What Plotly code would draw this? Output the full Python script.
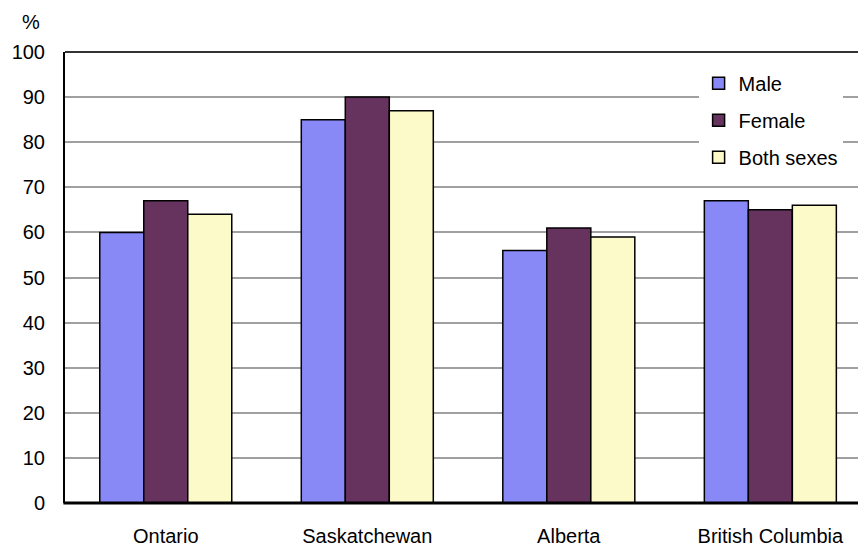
import plotly.graph_objects as go

categories = ["Ontario", "Saskatchewan", "Alberta", "British Columbia"]
male = [60, 85, 56, 67]
female = [67, 90, 61, 65]
both = [64, 87, 59, 66]
series_names = ["Male", "Female", "Both sexes"]
series_colors = ["#8888F6", "#66325E", "#FCFAC8"]
y_ticks = [0, 10, 20, 30, 40, 50, 60, 70, 80, 90, 100]

fig = go.Figure()
for i, (name, vals, col) in enumerate(zip(series_names, [male, female, both], series_colors)):
    fig.add_trace(go.Bar(
        x=categories, y=vals, name=name, legendgroup=str(i),
        marker=dict(color=col, line=dict(color="black", width=1.5)),
    ))

fig.update_layout(
    template="none",
    width=858, height=546,
    margin=dict(l=65, r=0, t=52, b=43, autoexpand=False),
    paper_bgcolor="white", plot_bgcolor="white",
    barmode="group", bargap=0.345, bargroupgap=0,
    font=dict(family="Liberation Sans, Arial, sans-serif", size=20, color="black"),
    showlegend=True,
    legend=dict(
        x=0.799, y=0.974, xanchor="left", yanchor="top",
        bgcolor="white", borderwidth=0,
        traceorder="grouped", tracegroupgap=8,
        font=dict(size=20),
        itemwidth=30,
    ),
    xaxis=dict(
        range=[-0.5, 3.435], showgrid=False, showline=False, zeroline=False,
        ticks="", tickfont=dict(size=20), ticklabelstandoff=19, automargin=False,
    ),
    yaxis=dict(
        range=[0, 100], tickvals=y_ticks, showgrid=True,
        gridcolor="#A0A0A0", gridwidth=1.5, zeroline=False,
        showline=True, linecolor="black", linewidth=2,
        ticks="", tickfont=dict(size=20), ticklabelstandoff=14, automargin=False,
    ),
    annotations=[dict(
        text="%", xref="paper", yref="paper", x=-0.043, y=1.066,
        showarrow=False, font=dict(size=20), xanchor="center", yanchor="middle",
    )],
    shapes=[
        dict(type="line", xref="paper", yref="paper", x0=0, x1=1, y0=1, y1=1,
             line=dict(color="#333333", width=2)),
        dict(type="line", xref="paper", yref="paper", x0=-0.002, x1=1, y0=0, y1=0,
             line=dict(color="black", width=3)),
    ],
)

fig.write_html("out.html")
